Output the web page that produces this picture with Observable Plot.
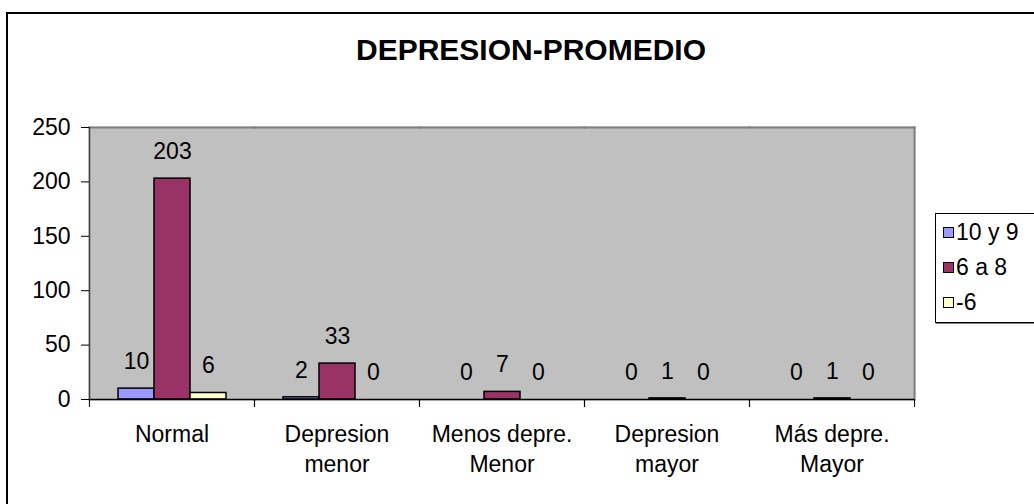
<!DOCTYPE html>
<html>
<head>
<meta charset="utf-8">
<script src="https://cdn.jsdelivr.net/npm/d3@7"></script>
<script src="https://cdn.jsdelivr.net/npm/@observablehq/plot@0.6"></script>
<style>
  html, body { margin: 0; padding: 0; background: #fff; }
  #wrap { position: relative; width: 1034px; height: 504px; overflow: hidden; font-family: "Liberation Sans", Arial, sans-serif; }
  #border { position: absolute; left: 6px; top: 12px; width: 1100px; height: 600px; border-left: 2px solid #000; border-top: 2px solid #000; box-sizing: border-box; }
  #title { position: absolute; left: 0; width: 1062px; top: 31px; text-align: center; font-weight: bold; font-size: 30px; line-height: 38px; color: #000; }
  #legend { position: absolute; left: 935px; top: 213px; width: 120px; height: 110px; border: 1.5px solid #000; box-shadow: 1px 1px 0 #808080; box-sizing: border-box; background: #fff; }
  .item { position: absolute; left: 7px; display: flex; align-items: center; font-size: 23px; line-height: 26px; color: #000; }
  .sw { width: 11px; height: 11px; border: 1.5px solid #000; margin-right: 2px; box-sizing: border-box; }
  #chart { position: absolute; left: 0; top: 0; }
</style>
</head>
<body>
<div id="wrap">
  <div id="border"></div>
  <div id="chart"></div>
  <div id="title"></div>
  <div id="legend"></div>
</div>
<script>
const title = "DEPRESION-PROMEDIO";
const categories = ["Normal", "Depresion\nmenor", "Menos depre.\nMenor", "Depresion\nmayor", "Más depre.\nMayor"];
const series = ["10 y 9", "6 a 8", "-6"];
const values10y9 = [10, 2, 0, 0, 0];
const values6a8 = [203, 33, 7, 1, 1];
const valuesMenos6 = [6, 0, 0, 0, 0];
const colors = ["#9999FF", "#993366", "#FFFFCC"];
const yTicks = [0, 50, 100, 150, 200, 250];

const seriesValues = [values10y9, values6a8, valuesMenos6];
const data = categories.flatMap((c, i) => series.map((s, j) => ({category: c, series: s, value: seriesValues[j][i]})));

const W = 1034, H = 504, ML = 88, MR = 120, MT = 127, MB = 105;
const bw = (W - ML - MR) / categories.length;

const chart = Plot.plot({
  width: W, height: H,
  marginLeft: ML, marginRight: MR, marginTop: MT, marginBottom: MB,
  style: {fontFamily: '"Liberation Sans", Arial, sans-serif', fontSize: "23px", color: "#000", background: "transparent", overflow: "visible"},
  fx: {domain: categories, padding: 0, axis: null, label: null},
  x: {domain: series, paddingInner: 0, paddingOuter: 0.73, axis: null},
  y: {domain: [0, 250], axis: null},
  color: {domain: series, range: colors},
  marks: [
    Plot.frame({fill: "#c0c0c0", stroke: "#c0c0c0", strokeWidth: 2}),
    Plot.frame({anchor: "top", stroke: "#808080", strokeWidth: 2}),
    Plot.frame({anchor: "right", stroke: "#808080", strokeWidth: 2, facetAnchor: "right"}),
    Plot.frame({anchor: "left", stroke: "#404040", strokeWidth: 1.5, facetAnchor: "left"}),
    Plot.barY(data, {fx: "category", x: "series", y: "value", fill: "series", stroke: "#000", strokeWidth: 1.5, filter: d => d.value > 0}),
    Plot.text(data, {fx: "category", x: "series", y: "value", text: d => String(d.value), dy: -27, fill: "#000", fontSize: 23}),
    Plot.ruleY([0], {stroke: "#000", strokeWidth: 1.5}),
    Plot.axisY({ticks: yTicks, tickSize: 8, tickPadding: 11, label: null, fontSize: 23, stroke: "#000"}),
    Plot.axisFx({anchor: "bottom", tickSize: 8, tickFormat: () => "", dx: -bw / 2, label: null, stroke: "#000"}),
    Plot.axisFx({anchor: "bottom", tickSize: 8, tickFormat: () => "", dx: bw / 2, label: null, stroke: "#000"}),
    Plot.axisFx({anchor: "bottom", tickSize: 0, tickPadding: 21, label: null, fontSize: 23, lineHeight: 1.32})
  ]
});
document.getElementById("chart").appendChild(chart);
document.getElementById("title").textContent = title;

const legend = document.getElementById("legend");
series.forEach((s, i) => {
  const it = document.createElement("div");
  it.className = "item";
  it.style.top = (5 + i * 35) + "px";
  const sw = document.createElement("span");
  sw.className = "sw";
  sw.style.background = colors[i];
  const t = document.createElement("span");
  t.textContent = s;
  it.appendChild(sw);
  it.appendChild(t);
  legend.appendChild(it);
});
</script>
</body>
</html>
